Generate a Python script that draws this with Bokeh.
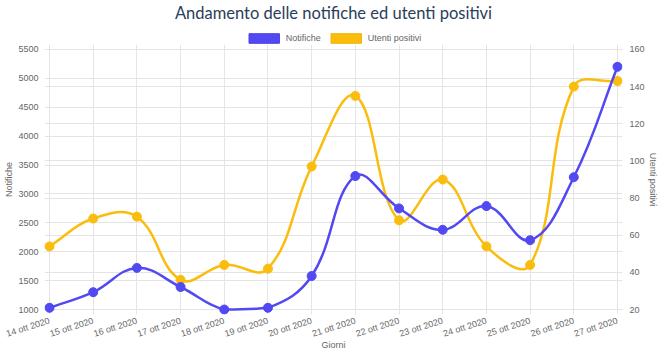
import math
from bokeh.plotting import figure
from bokeh.layouts import column
from bokeh.models import Range1d, LinearAxis, FixedTicker, Legend, LegendItem, Grid
from bokeh.embed import file_html
from bokeh.resources import INLINE

# ---------------- data ----------------
giorni = ["14 ott 2020", "15 ott 2020", "16 ott 2020", "17 ott 2020", "18 ott 2020",
          "19 ott 2020", "20 ott 2020", "21 ott 2020", "22 ott 2020", "23 ott 2020",
          "24 ott 2020", "25 ott 2020", "26 ott 2020", "27 ott 2020"]
notifiche = [1030, 1300, 1720, 1390, 1000, 1030, 1580, 3310, 2750, 2380, 2790, 2200, 3290, 5200]
utenti_positivi = [54, 69, 70, 36, 44, 42, 97, 135, 68, 90, 54, 44, 140, 143]
left_ticks = list(range(1000, 5501, 500))
right_ticks = list(range(20, 161, 20))

TITLE = "Andamento delle notifiche ed utenti positivi"
BLUE = "#5249f2"
YELLOW = "#fbbd0d"
GRID = "#e4e4e4"
TXT = "#666666"

AREA_W = 568.0
AREA_H = 262.0
PAD = 5.0
HEAD_H = 44

n = len(giorni)
xs = list(range(n))
x_lo, x_hi = 0, n - 1
yl_lo, yl_hi = left_ticks[0], left_ticks[-1]
yr_lo, yr_hi = right_ticks[0], right_ticks[-1]

sx = AREA_W / (x_hi - x_lo)
syl = AREA_H / (yl_hi - yl_lo)
syr = AREA_H / (yr_hi - yr_lo)


def spline(xv, yv, sy, ymin, ymax, t=0.4):
    px = [x * sx for x in xv]
    py = [y * sy for y in yv]
    prev_c, next_c = [], []
    m = len(px)
    for i in range(m):
        p0 = (px[max(i - 1, 0)], py[max(i - 1, 0)])
        p1 = (px[i], py[i])
        p2 = (px[min(i + 1, m - 1)], py[min(i + 1, m - 1)])
        d01 = math.hypot(p1[0] - p0[0], p1[1] - p0[1])
        d12 = math.hypot(p2[0] - p1[0], p2[1] - p1[1])
        tot = d01 + d12
        s01 = d01 / tot if tot else 0
        s12 = d12 / tot if tot else 0
        fa, fb = t * s01, t * s12
        pc = (p1[0] - fa * (p2[0] - p0[0]), p1[1] - fa * (p2[1] - p0[1]))
        nc = (p1[0] + fb * (p2[0] - p0[0]), p1[1] + fb * (p2[1] - p0[1]))

        def to_data(c):
            cx = min(max(c[0] / sx, x_lo), x_hi)
            cy = min(max(c[1] / sy, ymin), ymax)
            return cx, cy
        prev_c.append(to_data(pc))
        next_c.append(to_data(nc))
    seg = dict(x0=[], y0=[], x1=[], y1=[], cx0=[], cy0=[], cx1=[], cy1=[])
    for i in range(m - 1):
        seg["x0"].append(xv[i]); seg["y0"].append(yv[i])
        seg["x1"].append(xv[i + 1]); seg["y1"].append(yv[i + 1])
        seg["cx0"].append(next_c[i][0]); seg["cy0"].append(next_c[i][1])
        seg["cx1"].append(prev_c[i + 1][0]); seg["cy1"].append(prev_c[i + 1][1])
    return seg


# ---------------- header: title + legend ----------------
h = figure(width=660, height=HEAD_H, output_backend="svg", toolbar_location=None,
           x_axis_type=None, y_axis_type=None, x_range=Range1d(0, 1), y_range=Range1d(0, 1),
           min_border_left=0, min_border_right=0, min_border_top=0, min_border_bottom=0)
h.outline_line_color = None
h.grid.visible = False
h.title.text = TITLE
h.title.align = "center"
h.title.text_font = "Lato"
h.title.text_font_size = "16.5px"
h.title.text_color = "#2b3d5b"
h.title.text_font_style = "normal"
h.title.standoff = 0
h.title.offset = 0

# legend proxies (kept outside the header's visible range)
rb = h.quad(left=[2], right=[3], top=[3], bottom=[2], fill_color=BLUE, line_color="#4a40e0")
ry = h.quad(left=[2], right=[3], top=[3], bottom=[2], fill_color=YELLOW, line_color="#f0b400")
legend = Legend(items=[LegendItem(label="Notifiche", renderers=[rb]),
                       LegendItem(label="Utenti positivi", renderers=[ry])],
                orientation="horizontal", location="bottom_center",
                glyph_width=38, glyph_height=12, label_height=12,
                label_text_font="Liberation Sans", label_text_font_size="9px",
                label_text_color=TXT, label_standoff=3, spacing=6,
                padding=0, margin=0, border_line_color=None, background_fill_alpha=0)
h.add_layout(legend, "center")

# ---------------- main chart ----------------
px_x = PAD / sx
px_yl = PAD / syl
px_yr = PAD / syr

p = figure(width=660, height=353 - HEAD_H,
           x_range=Range1d(x_lo - px_x, x_hi + px_x),
           y_range=Range1d(yl_lo - px_yl, yl_hi + px_yl),
           output_backend="svg", toolbar_location=None,
           min_border_left=44, min_border_right=38,
           min_border_top=0, min_border_bottom=37)
p.extra_y_ranges = {"right": Range1d(yr_lo - px_yr, yr_hi + px_yr)}
p.outline_line_color = None

p.xaxis.ticker = FixedTicker(ticks=xs)
p.xaxis.major_label_overrides = {i: g for i, g in enumerate(giorni)}
p.xaxis.major_label_orientation = 0.3
p.xaxis.axis_label = "Giorni"

p.yaxis.ticker = FixedTicker(ticks=left_ticks)
p.yaxis.axis_label = "Notifiche"

ra = LinearAxis(y_range_name="right", ticker=FixedTicker(ticks=right_ticks),
                axis_label="Utenti positivi")
p.add_layout(ra, "right")

for ax in [p.xaxis[0], p.yaxis[0], ra]:
    ax.axis_line_color = None
    ax.major_tick_line_color = None
    ax.minor_tick_line_color = None
    ax.major_label_text_font = "Liberation Sans"
    ax.major_label_text_font_size = "9px"
    ax.major_label_text_color = TXT
    ax.axis_label_text_font = "Liberation Sans"
    ax.axis_label_text_font_size = "9px"
    ax.axis_label_text_color = TXT
    ax.axis_label_text_font_style = "normal"
    ax.major_label_standoff = 1
    ax.axis_label_standoff = 2

ra.axis_label_standoff = 0
p.yaxis[0].axis_label_standoff = 1
p.yaxis[0].major_label_standoff = 0
p.xaxis.major_label_standoff = 0
p.xaxis.axis_label_standoff = -6

p.xgrid.ticker = FixedTicker(ticks=xs)
p.ygrid.ticker = FixedTicker(ticks=left_ticks)
p.xgrid.grid_line_color = GRID
p.ygrid.grid_line_color = GRID
g2 = Grid(dimension=1, ticker=FixedTicker(ticks=right_ticks), y_range_name="right",
          grid_line_color=GRID)
p.add_layout(g2)

seg_u = spline(xs, utenti_positivi, syr, yr_lo, yr_hi)
seg_n = spline(xs, notifiche, syl, yl_lo, yl_hi)
p.bezier(source=seg_u, x0="x0", y0="y0", x1="x1", y1="y1", cx0="cx0", cy0="cy0",
         cx1="cx1", cy1="cy1", line_color=YELLOW, line_width=2.5, y_range_name="right")
p.scatter(xs, utenti_positivi, size=9, color=YELLOW, y_range_name="right")
p.bezier(source=seg_n, x0="x0", y0="y0", x1="x1", y1="y1", cx0="cx0", cy0="cy0",
         cx1="cx1", cy1="cy1", line_color=BLUE, line_width=2.5)
p.scatter(xs, notifiche, size=9, color=BLUE)

layout = column(h, p, spacing=0)
open("out.html", "w").write(file_html(layout, INLINE))
